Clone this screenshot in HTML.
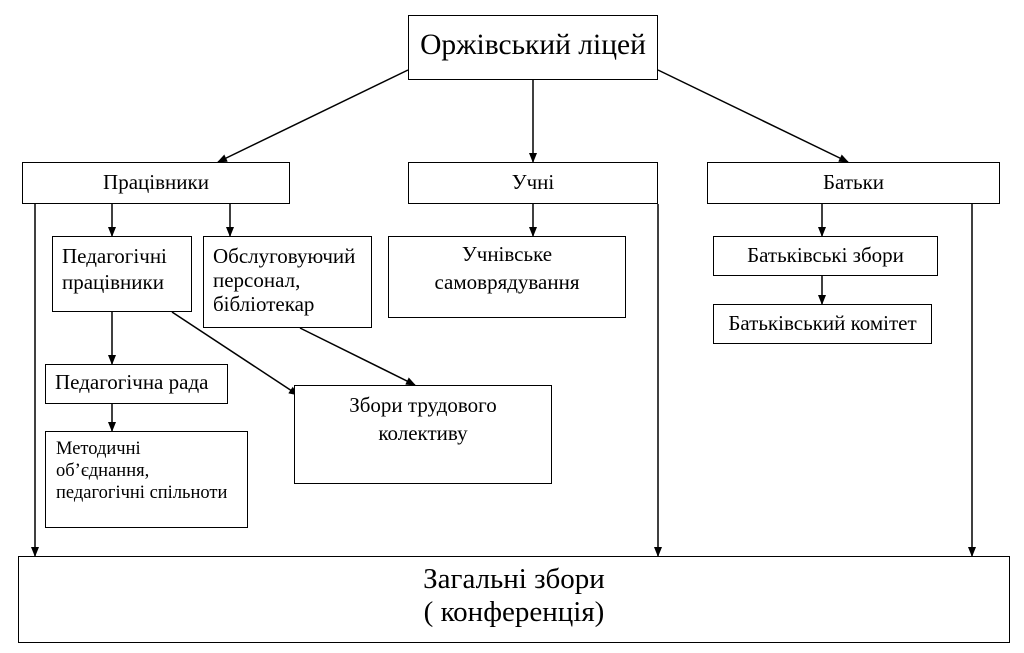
<!DOCTYPE html>
<html><head><meta charset="utf-8"><style>
body{margin:0;width:1024px;height:653px;background:#fff;position:relative;overflow:hidden;font-family:"Liberation Serif",serif;color:#000}
.b{position:absolute;border:1px solid #000;box-sizing:border-box;background:#fff}
.t{position:absolute;font-size:21px;line-height:26px;white-space:nowrap}
svg{position:absolute;left:0;top:0}
</style></head><body>
<svg width="1024" height="653">
<defs><marker id="a" markerWidth="10" markerHeight="8" refX="9" refY="4" orient="auto" markerUnits="userSpaceOnUse"><path d="M0,0 L10,4 L0,8 z" fill="#000"/></marker></defs>
<g stroke="#000" stroke-width="1.5" marker-end="url(#a)">
<line x1="408" y1="70" x2="218" y2="162"/>
<line x1="533" y1="80" x2="533" y2="162"/>
<line x1="658" y1="70" x2="848" y2="162"/>
<line x1="35" y1="204" x2="35" y2="556"/>
<line x1="658" y1="204" x2="658" y2="556"/>
<line x1="972" y1="204" x2="972" y2="556"/>
<line x1="112" y1="204" x2="112" y2="236"/>
<line x1="230" y1="204" x2="230" y2="236"/>
<line x1="533" y1="204" x2="533" y2="236"/>
<line x1="822" y1="204" x2="822" y2="236"/>
<line x1="822" y1="276" x2="822" y2="304"/>
<line x1="112" y1="312" x2="112" y2="364"/>
<line x1="112" y1="404" x2="112" y2="431"/>
<line x1="172" y1="312" x2="298" y2="395"/>
<line x1="300" y1="328" x2="415" y2="385"/>
</g></svg>
<div class="b" style="left:408px;top:15px;width:250px;height:65px"></div>
<div class="t" style="left:408px;top:27px;width:250px;text-align:center;font-size:29.5px;line-height:36px">Оржівський ліцей</div>
<div class="b" style="left:22px;top:162px;width:268px;height:42px"></div>
<div class="t" style="left:22px;top:169px;width:268px;text-align:center">Працівники</div>
<div class="b" style="left:408px;top:162px;width:250px;height:42px"></div>
<div class="t" style="left:408px;top:169px;width:250px;text-align:center">Учні</div>
<div class="b" style="left:707px;top:162px;width:293px;height:42px"></div>
<div class="t" style="left:707px;top:169px;width:293px;text-align:center">Батьки</div>
<div class="b" style="left:52px;top:236px;width:140px;height:76px"></div>
<div class="t" style="left:62px;top:243px">Педагогічні<br>працівники</div>
<div class="b" style="left:203px;top:236px;width:169px;height:92px"></div>
<div class="t" style="left:213px;top:244px;line-height:24px">Обслуговуючий<br>персонал,<br>бібліотекар</div>
<div class="b" style="left:388px;top:236px;width:238px;height:82px"></div>
<div class="t" style="left:388px;top:240px;width:238px;text-align:center;line-height:28px">Учнівське<br>самоврядування</div>
<div class="b" style="left:713px;top:236px;width:225px;height:40px"></div>
<div class="t" style="left:713px;top:242px;width:225px;text-align:center">Батьківські збори</div>
<div class="b" style="left:713px;top:304px;width:219px;height:40px"></div>
<div class="t" style="left:713px;top:310px;width:219px;text-align:center">Батьківський комітет</div>
<div class="b" style="left:45px;top:364px;width:183px;height:40px"></div>
<div class="t" style="left:55px;top:369px">Педагогічна рада</div>
<div class="b" style="left:45px;top:431px;width:203px;height:97px"></div>
<div class="t" style="left:56px;top:438px;font-size:18.5px;line-height:22px">Методичні<br>об’єднання,<br>педагогічні спільноти</div>
<div class="b" style="left:294px;top:385px;width:258px;height:99px"></div>
<div class="t" style="left:294px;top:391px;width:258px;text-align:center;line-height:28px">Збори трудового<br>колективу</div>
<div class="b" style="left:18px;top:556px;width:992px;height:87px"></div>
<div class="t" style="left:18px;top:563px;width:992px;text-align:center;font-size:29px;line-height:33px">Загальні збори<br>( конференція)</div>
</body></html>
